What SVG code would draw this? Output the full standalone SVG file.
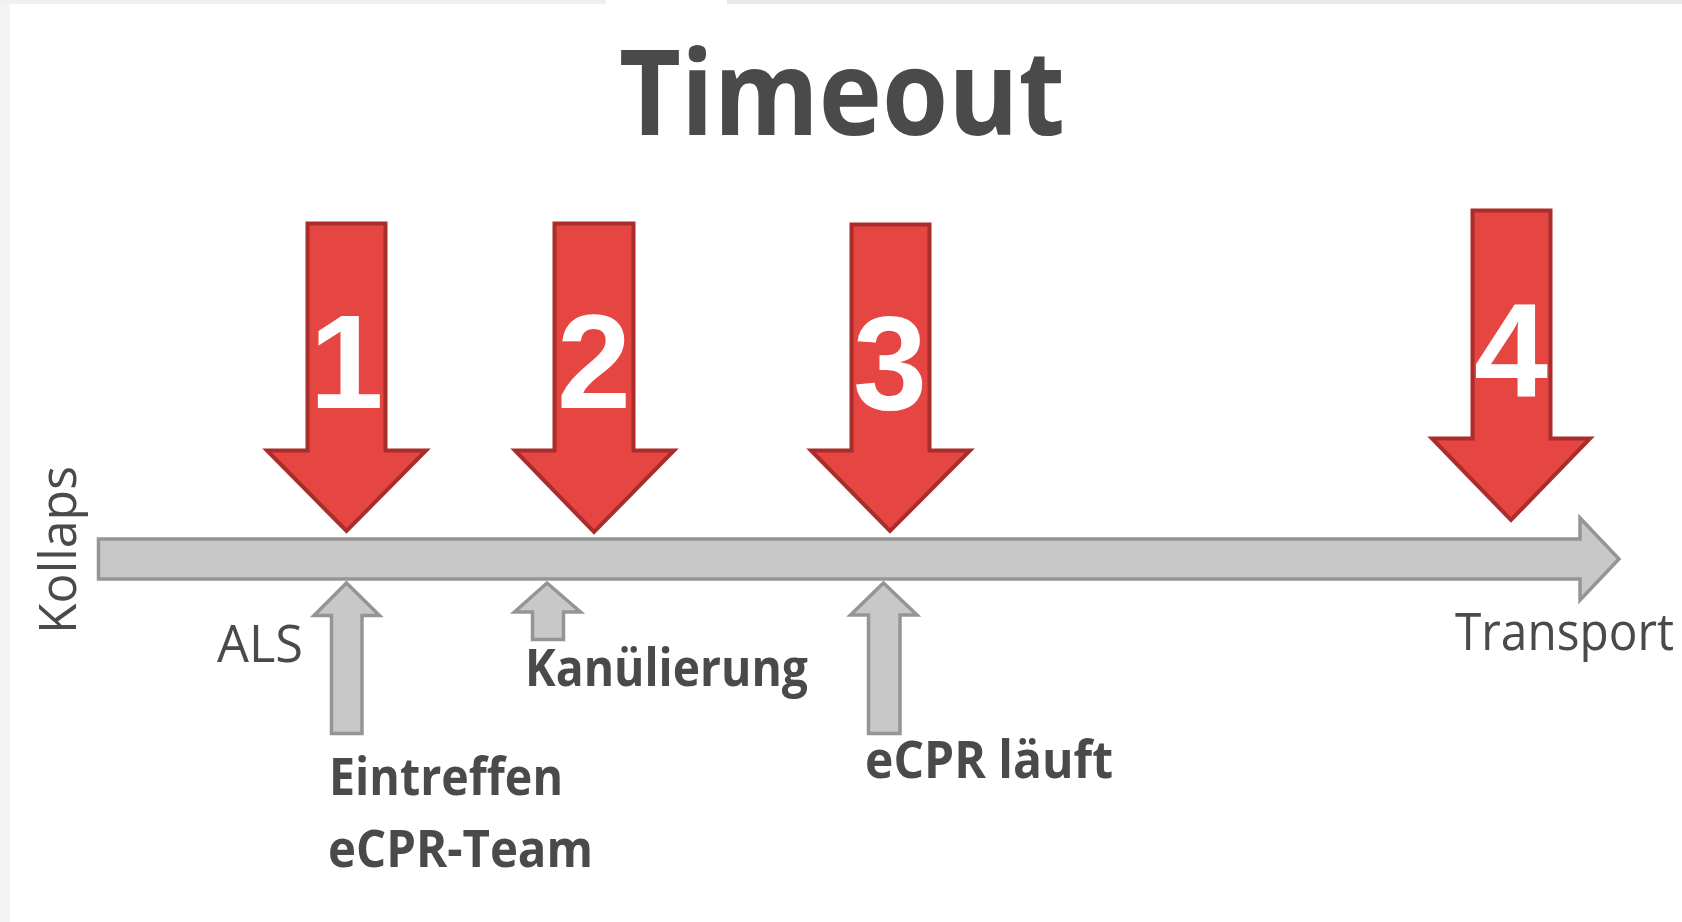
<svg xmlns="http://www.w3.org/2000/svg" width="1682" height="922" viewBox="0 0 1682 922">
  <style>
    .red { fill: #e54642; stroke: #a82d2b; stroke-width: 4; stroke-linejoin: miter; }
    .gray { fill: #c8c8c8; stroke: #959595; stroke-width: 3.5; stroke-linejoin: miter; }
    .num { font-family: "Liberation Sans", Arial, sans-serif; font-weight: bold; font-size: 133px; fill: #ffffff; text-anchor: middle; }
    .lbl { font-family: "Open Sans", "Liberation Sans", sans-serif; font-size: 52px; fill: #4a4a4a; }
    .bold { font-weight: bold; }
    .title { font-family: "Open Sans", "Liberation Sans", sans-serif; font-weight: bold; font-size: 119px; fill: #4a4a4a; }
  </style>
  <rect x="0" y="0" width="1682" height="922" fill="#ffffff"/>
  <rect x="0" y="0" width="10" height="922" fill="#f4f4f4"/>
  <rect x="0" y="0" width="606" height="4" fill="#f0f0f0"/>
  <rect x="727" y="0" width="955" height="4" fill="#e9e9e9"/>

  <g id="title">
    <text class="title" x="619" y="135" textLength="446" lengthAdjust="spacingAndGlyphs">Timeout</text>
  </g>

  <g id="connectors">
    <path id="timeline" class="gray" d="M98.5,539 L1580,539 L1580,518 L1619,559 L1580,600 L1580,579 L98.5,579 Z"/>
  </g>

  <g id="kollaps">
    <text class="lbl" transform="translate(76,634) rotate(-90)" x="0" y="0" textLength="168" lengthAdjust="spacingAndGlyphs">Kollaps</text>
  </g>

  <g id="marker-1">
    <path class="red" d="M307.5,223.5 L385.5,223.5 L385.5,450.5 L426,450.5 L346.5,531 L267,450.5 L307.5,450.5 Z"/>
    <text class="num" x="346.5" y="408">1</text>
  </g>
  <g id="marker-2">
    <path class="red" d="M554.5,223.5 L633.5,223.5 L633.5,450.5 L674,450.5 L594,532 L515,450.5 L554.5,450.5 Z"/>
    <text class="num" x="594" y="408">2</text>
  </g>
  <g id="marker-3">
    <path class="red" d="M851.5,224.5 L929.5,224.5 L929.5,450.5 L970,450.5 L890,531 L811,450.5 L851.5,450.5 Z"/>
    <text class="num" x="890" y="410">3</text>
  </g>
  <g id="marker-4">
    <path class="red" d="M1472.5,210.5 L1550.5,210.5 L1550.5,438.5 L1590,438.5 L1511,520 L1432,438.5 L1472.5,438.5 Z"/>
    <text class="num" x="1511" y="397">4</text>
  </g>

  <g id="event-als">
    <path class="gray" d="M346.5,583 L379.5,615.5 L362,615.5 L362,733.5 L331.5,733.5 L331.5,615.5 L314,615.5 Z"/>
    <text class="lbl" x="217" y="662" textLength="86" lengthAdjust="spacingAndGlyphs">ALS</text>
    <text class="lbl bold" x="329" y="795" textLength="234" lengthAdjust="spacingAndGlyphs">Eintreffen</text>
    <text class="lbl bold" x="328" y="867" textLength="265" lengthAdjust="spacingAndGlyphs">eCPR-Team</text>
  </g>
  <g id="event-kanuelierung">
    <path class="gray" d="M547,583 L580.5,612 L563.5,612 L563.5,639.5 L532.5,639.5 L532.5,612 L514.5,612 Z"/>
    <text class="lbl bold" x="525" y="686" textLength="283" lengthAdjust="spacingAndGlyphs">Kanülierung</text>
  </g>
  <g id="event-ecpr">
    <path class="gray" d="M883.5,583 L917,615 L900,615 L900,733.5 L868.5,733.5 L868.5,615 L850.5,615 Z"/>
    <text class="lbl bold" x="865" y="778" textLength="248" lengthAdjust="spacingAndGlyphs">eCPR läuft</text>
  </g>
  <g id="transport">
    <text class="lbl" style="font-size:48px" transform="translate(1455,650) scale(1,1.083)" x="0" y="0" textLength="219" lengthAdjust="spacingAndGlyphs">Transport</text>
  </g>
</svg>
